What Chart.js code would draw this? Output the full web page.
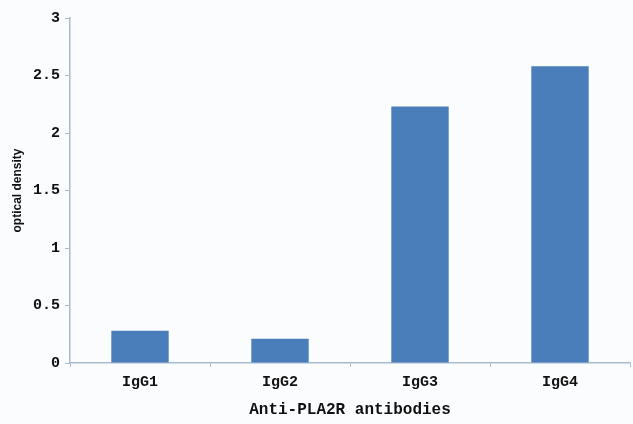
<!DOCTYPE html>
<html>
<head>
<meta charset="utf-8">
<script src="https://cdn.jsdelivr.net/npm/chart.js@4/dist/chart.umd.min.js"></script>
<style>
  html, body { margin: 0; padding: 0; background: #fbfcfe; }
  #wrap { width: 633px; height: 424px; }
</style>
</head>
<body>
<div id="wrap"><canvas id="odChart" width="633" height="424"></canvas></div>
<script>
// données
const categories = ["IgG1", "IgG2", "IgG3", "IgG4"];
const odValues = [0.28, 0.21, 2.23, 2.58];
const yTicks = [0, 0.5, 1, 1.5, 2, 2.5, 3];
const yTickLabels = ["0", "0.5", "1", "1.5", "2", "2.5", "3"];

const axisColor = "#a9bccf";
const monoFont = { family: "'Liberation Mono', 'DejaVu Sans Mono', monospace", size: 15, weight: "bold" };

// fond du canvas
const bgPlugin = {
    id: "bg",
    beforeDraw(chart) {
        const ctx = chart.ctx;
        ctx.save();
        ctx.fillStyle = "#fbfcfe";
        ctx.fillRect(0, 0, chart.width, chart.height);
        ctx.restore();
    }
};

new Chart(document.getElementById("odChart").getContext("2d"), {
    type: "bar",
    data: {
        labels: categories,
        datasets: [{
            label: "optical density",
            data: odValues,
            backgroundColor: "#4a7ebb",
            categoryPercentage: 1,
            barPercentage: 0.41
        }]
    },
    options: {
        responsive: false,
        animation: false,
        layout: { padding: { top: 18, right: 3, left: 0, bottom: 0 } },
        plugins: {
            legend: { display: false },
            tooltip: { enabled: false }
        },
        scales: {
            x: {
                offset: true,
                grid: { offset: true, drawOnChartArea: false, drawTicks: true, tickLength: 4, color: axisColor },
                border: { color: axisColor, width: 1.5 },
                ticks: { color: "#111", font: monoFont, padding: 6 },
                title: {
                    display: true,
                    text: "Anti-PLA2R antibodies",
                    color: "#111",
                    font: { family: "'Liberation Mono', 'DejaVu Sans Mono', monospace", size: 16, weight: "bold" },
                    padding: { top: 0, bottom: 4 }
                },
                afterFit(scale) { scale.height = 61; }
            },
            y: {
                min: 0,
                max: 3,
                afterBuildTicks(scale) { scale.ticks = yTicks.map(v => ({ value: v })); },
                grid: { drawOnChartArea: false, drawTicks: true, tickLength: 5, color: axisColor },
                border: { color: axisColor, width: 1.5 },
                ticks: {
                    color: "#111",
                    font: monoFont,
                    padding: 5,
                    callback: (value, index) => yTickLabels[index]
                },
                title: {
                    display: true,
                    text: "optical density",
                    color: "#111",
                    font: { family: "'Liberation Sans Narrow', 'Liberation Sans', sans-serif", size: 12, weight: "bold" },
                    padding: { top: 10, bottom: 0 }
                },
                afterFit(scale) { scale.width = 70; }
            }
        }
    },
    plugins: [bgPlugin]
});
</script>
</body>
</html>
